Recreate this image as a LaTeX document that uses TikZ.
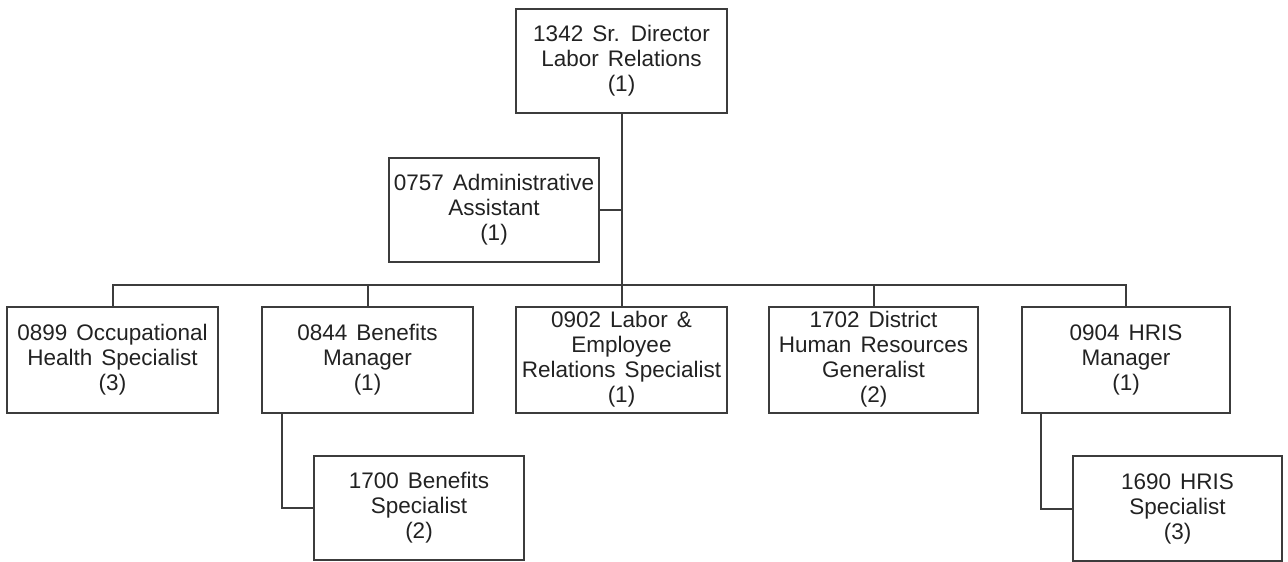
\documentclass[tikz,border=0pt]{standalone}
\usepackage{fontspec}
\setmainfont{Liberation Sans}[WordSpace=1.45]
\definecolor{linegray}{HTML}{3C3C3C}
\definecolor{textgray}{HTML}{222222}
\begin{document}
\begin{tikzpicture}[x=1pt,y=-1pt,
  posbox/.style={draw=linegray, line width=2pt, rectangle, inner sep=0pt, align=center,
    text=textgray, font=\fontsize{22.5}{25}\selectfont, minimum width=210pt, minimum height=105pt},
  conn/.style={draw=linegray, line width=2pt}]
\useasboundingbox (0,0) rectangle (1288,562);
\node[posbox, minimum width=211pt, minimum height=104pt] (top) at (621.5,61) {1342 Sr. Director\\Labor Relations\\(1)};
\node[posbox, minimum height=104pt] (admin) at (494,210) {0757 Administrative\\Assistant\\(1)};
\node[posbox, minimum width=211pt, minimum height=106pt] (b1) at (112.5,359.5) {0899 Occupational\\Health Specialist\\(3)};
\node[posbox, minimum width=211pt, minimum height=106pt] (b2) at (367.5,359.5) {0844 Benefits\\Manager\\(1)};
\node[posbox, minimum width=211pt, minimum height=106pt] (b3) at (621.5,359.5) {0902 Labor \&\\Employee\\Relations Specialist\\(1)};
\node[posbox, minimum width=209pt, minimum height=106pt] (b4) at (873.5,359.5) {1702 District\\Human Resources\\Generalist\\(2)};
\node[posbox, minimum width=208pt, minimum height=106pt] (b5) at (1126,359.5) {0904 HRIS\\Manager\\(1)};
\node[posbox, minimum width=210pt, minimum height=104pt] (s1) at (419,508) {1700 Benefits\\Specialist\\(2)};
\node[posbox, minimum width=209pt, minimum height=105pt] (s2) at (1177.5,508.5) {1690 HRIS\\Specialist\\(3)};
\coordinate (bus) at (621.5,285);
\draw[conn] (top.south) -- (b3.north);
\draw[conn] (admin.east) -- (admin.east -| top.south);
\draw[conn] (b1.north) -- (b1.north |- bus) -- (b5.north |- bus) -- (b5.north);
\draw[conn] (b2.north) -- (b2.north |- bus);
\draw[conn] (b4.north) -- (b4.north |- bus);
\draw[conn] ([xshift=21pt]b2.south west) |- (s1.west);
\draw[conn] ([xshift=20pt]b5.south west) |- (s2.west);
\end{tikzpicture}
\end{document}
